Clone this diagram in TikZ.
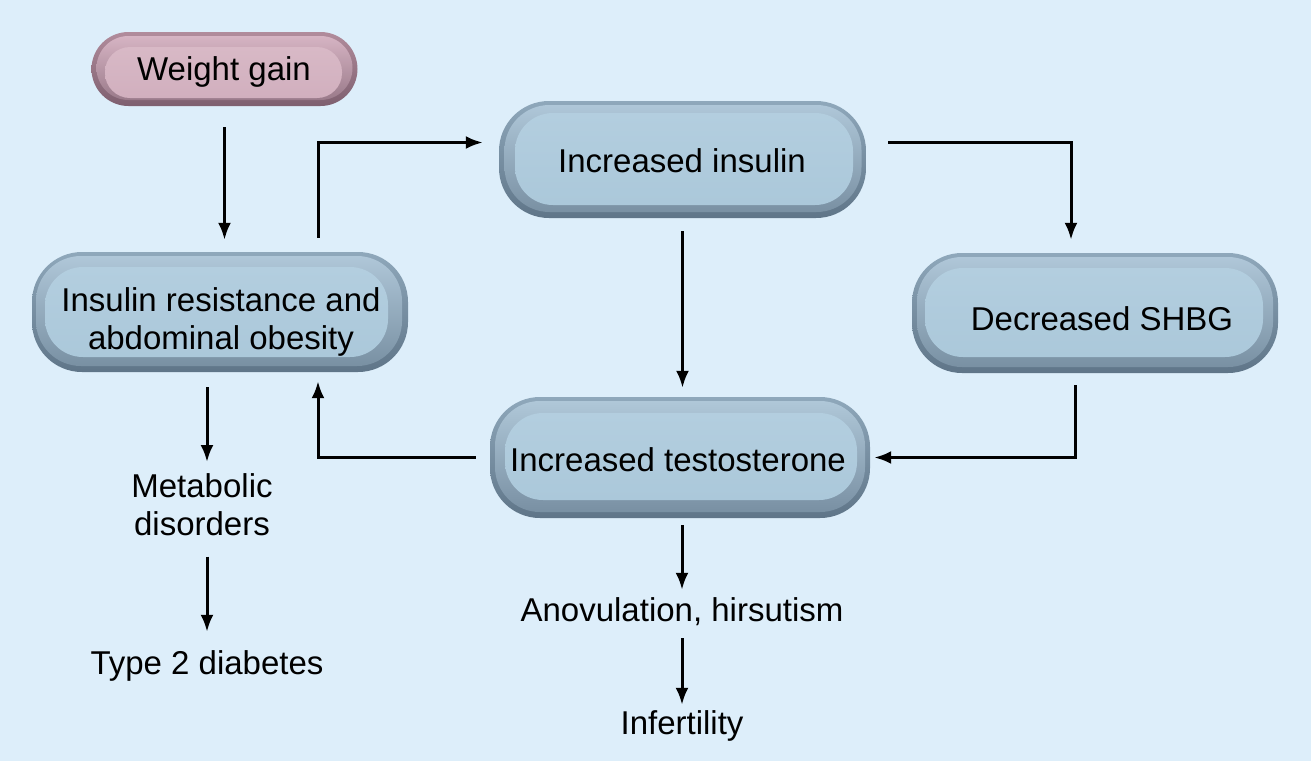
\documentclass[tikz,border=0pt]{standalone}
\usepackage{fontspec}
\setmainfont{Liberation Sans}
\usetikzlibrary{arrows.meta}
\definecolor{bg}{HTML}{DDEEFA}
\definecolor{bluetop}{HTML}{8FA8BB}
\definecolor{bluebot}{HTML}{5F7588}
\definecolor{bluemidtop}{HTML}{AFC7D8}
\definecolor{bluemidbot}{HTML}{7990A3}
\definecolor{bluein}{HTML}{ABC8DA}
\definecolor{blueintop}{HTML}{B3CEDF}
\definecolor{pinktop}{HTML}{B18C9C}
\definecolor{pinkbot}{HTML}{7E5F6F}
\definecolor{pinkmidtop}{HTML}{D6B4C3}
\definecolor{pinkmidbot}{HTML}{9A7A8A}
\definecolor{pinkin}{HTML}{D1AFBE}
\definecolor{pinkintop}{HTML}{D8B9C6}
\tikzset{
  outerbox/.style={draw=none, top color=bluetop, bottom color=bluebot, inner sep=0pt},
  midbox/.style={draw=none, top color=bluemidtop, bottom color=bluemidbot, inner sep=0pt},
  innerbox/.style={draw=none, top color=blueintop, bottom color=bluein, inner sep=0pt},
  pinkouter/.style={draw=none, top color=pinktop, bottom color=pinkbot, inner sep=0pt},
  pinkmid/.style={draw=none, top color=pinkmidtop, bottom color=pinkmidbot, inner sep=0pt},
  pinkinner/.style={draw=none, top color=pinkintop, bottom color=pinkin, inner sep=0pt},
  lbl/.style={inner sep=0pt, text height=24pt, text depth=0pt, font=\fontsize{33}{38}\selectfont},
  mlbl/.style={inner sep=0pt, align=center, font=\fontsize{33}{38}\selectfont},
  arr/.style={line width=3pt, -{Latex[length=17pt,width=13pt]}},
}
\begin{document}
\begin{tikzpicture}[x=1pt,y=-1pt]
\fill[bg] (0,0) rectangle (1311,761);
\useasboundingbox (0,0) rectangle (1311,761);

% Weight gain
\node[pinkouter, minimum width=266pt, minimum height=74pt, rounded corners=37pt] (wg) at (224.5,69) {};
\node[pinkmid, minimum width=256pt, minimum height=64pt, rounded corners=32pt] (wgm) at (224.5,68) {};
\node[pinkinner, minimum width=237pt, minimum height=51pt, rounded corners=25pt] (wgi) at (223.5,72.5) {};
\node[lbl] (wgt) at (224,68) {Weight gain};

% Insulin resistance
\node[outerbox, minimum width=376pt, minimum height=120pt, rounded corners=50pt] (ira) at (220,312) {};
\node[midbox, minimum width=366pt, minimum height=110pt, rounded corners=45pt] (iram) at (219,311) {};
\node[innerbox, minimum width=343pt, minimum height=90pt, rounded corners=38pt] (irai) at (216.5,312) {};
\node[mlbl] (irat) at (221,322) {Insulin resistance and\\abdominal obesity};

% Increased insulin
\node[outerbox, minimum width=367pt, minimum height=117pt, rounded corners=50pt] (ins) at (682.5,159.5) {};
\node[midbox, minimum width=357pt, minimum height=107pt, rounded corners=45pt] (insm) at (683,158.5) {};
\node[innerbox, minimum width=338pt, minimum height=92pt, rounded corners=38pt] (insi) at (684,159) {};
\node[lbl] (inst) at (682,160) {Increased insulin};

% Decreased SHBG
\node[outerbox, minimum width=366pt, minimum height=120pt, rounded corners=50pt] (shbg) at (1095,313) {};
\node[midbox, minimum width=356pt, minimum height=110pt, rounded corners=45pt] (shbgm) at (1095,312) {};
\node[innerbox, minimum width=338pt, minimum height=89pt, rounded corners=38pt] (shbgi) at (1094,312.5) {};
\node[lbl] (shbgt) at (1102,318) {Decreased SHBG};

% Increased testosterone
\node[outerbox, minimum width=380pt, minimum height=121pt, rounded corners=50pt] (tes) at (680,457.5) {};
\node[midbox, minimum width=370pt, minimum height=111pt, rounded corners=45pt] (tesm) at (680,456.5) {};
\node[innerbox, minimum width=352pt, minimum height=87pt, rounded corners=38pt] (tesi) at (681,456.5) {};
\node[lbl] (test) at (678,459) {Increased testosterone};

% Plain labels
\node[mlbl, anchor=north] (met) at (202,473) {Metabolic\\disorders};
\node[lbl] (t2d) at (207,662) {Type 2 diabetes};
\node[lbl] (ano) at (682,609) {Anovulation, hirsutism};
\node[lbl] (inf) at (682,722) {Infertility};

% Connectors
\draw[arr, shorten <=21pt, shorten >=12pt] (wg.south) -- (wg.south |- ira.north);
\draw[arr] ([xshift=98pt,yshift=14pt]ira.north) |- ([xshift=-16pt,yshift=17pt]ins.west);
\draw[arr, shorten <=13pt, shorten >=9pt] (ins.south) -- (ins.south |- tes.north);
\draw[arr] ([xshift=22pt,yshift=17pt]ins.east) -| ([xshift=-24pt,yshift=13pt]shbg.north);
\draw[arr] ([xshift=-20pt,yshift=-12pt]shbg.south) |- ([xshift=4pt]tes.east);
\draw[arr] ([xshift=-14pt]tes.west) -| ([xshift=98pt,yshift=-9pt]ira.south);
\draw[arr] ([xshift=-13pt,yshift=-15pt]ira.south) -- ([xshift=5pt,yshift=11pt]met.north);
\draw[arr] ([xshift=5pt,yshift=-21pt]met.south) -- ([yshift=18pt]t2d.north);
\draw[arr] ([xshift=2pt,yshift=-7pt]tes.south) -- ([yshift=7pt]ano.north);
\draw[arr, shorten <=17pt, shorten >=5pt] (ano.south) -- (inf.north);
\end{tikzpicture}
\end{document}
